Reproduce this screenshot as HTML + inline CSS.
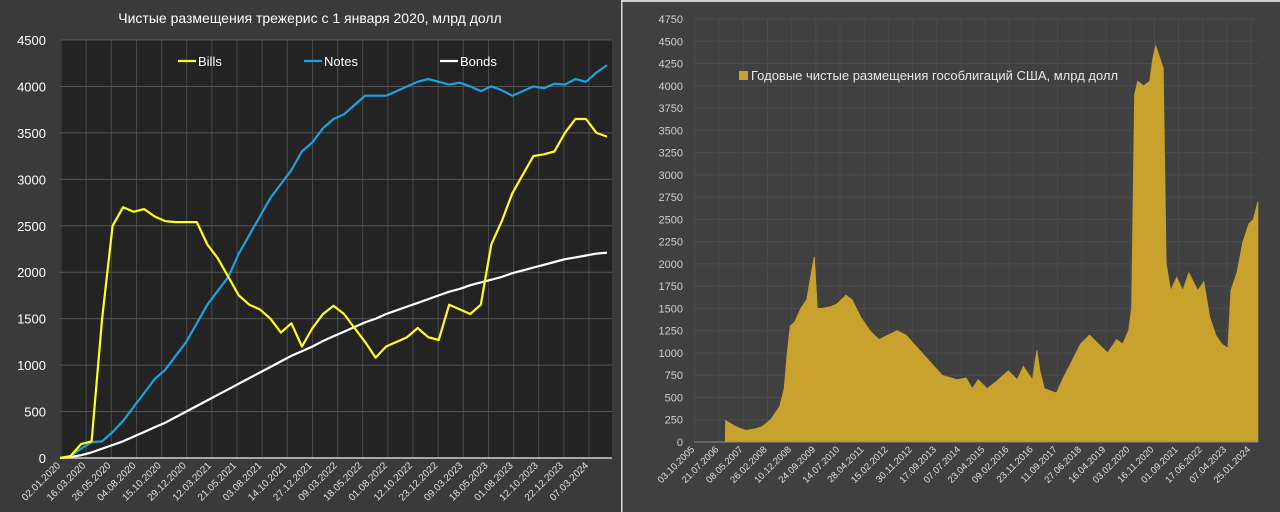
<!DOCTYPE html>
<html><head><meta charset="utf-8"><style>
html,body{margin:0;padding:0;background:#3b3b3b;width:1280px;height:512px;overflow:hidden}
svg{display:block;font-family:"Liberation Sans","Noto Sans CJK SC",sans-serif}
</style></head><body>
<svg id="s" width="1280" height="512" xmlns="http://www.w3.org/2000/svg">
<rect x="0" y="0" width="621" height="512" fill="#3a3a3a"/>
<rect x="621" y="0" width="1.5" height="512" fill="#d8d8d8"/>
<rect x="622.5" y="2" width="657.5" height="510" fill="#404040"/>
<rect x="622.5" y="0" width="657.5" height="2" fill="#cfcfcf"/>
<rect x="60" y="40" width="552" height="418" fill="#232323"/>
<text x="310" y="23" fill="#ffffff" font-size="14" text-anchor="middle">Чистые размещения трежерис с 1 января 2020, млрд долл</text>
<g id="lg"></g>
<g id="rg"></g>
</svg>
<script>
const NS='http://www.w3.org/2000/svg';
function mk(tag,attrs,parent,text){const e=document.createElementNS(NS,tag);for(const k in attrs)e.setAttribute(k,attrs[k]);if(text!==undefined)e.textContent=text;parent.appendChild(e);return e;}

// ---- Left chart data (monthly, Jan 2020 .. May 2024)
const leftYTicks=[0,500,1000,1500,2000,2500,3000,3500,4000,4500];
const leftXLabels=["02.01.2020","16.03.2020","26.05.2020","04.08.2020","15.10.2020","29.12.2020","12.03.2021","21.05.2021","03.08.2021","14.10.2021","27.12.2021","09.03.2022","18.05.2022","01.08.2022","12.10.2022","23.12.2022","09.03.2023","18.05.2023","01.08.2023","12.10.2023","22.12.2023","07.03.2024"];
const bills=[0,20,150,180,1500,2500,2700,2650,2680,2600,2550,2540,2540,2540,2300,2150,1950,1750,1650,1600,1500,1350,1450,1200,1400,1550,1640,1550,1400,1250,1080,1200,1250,1300,1400,1300,1270,1650,1600,1550,1650,2300,2550,2850,3050,3250,3270,3300,3500,3650,3650,3500,3460];
const notes=[0,20,100,170,180,280,400,550,700,850,950,1100,1250,1450,1650,1800,1950,2200,2400,2600,2800,2950,3100,3300,3400,3550,3650,3700,3800,3900,3900,3900,3950,4000,4050,4080,4050,4020,4040,4000,3950,4000,3960,3900,3950,4000,3980,4030,4020,4080,4050,4150,4230];
const bonds=[0,10,30,60,100,140,180,230,280,330,380,440,500,560,620,680,740,800,860,920,980,1040,1100,1150,1200,1260,1310,1360,1410,1460,1500,1550,1590,1630,1670,1710,1750,1790,1820,1860,1890,1920,1950,1990,2020,2050,2080,2110,2140,2160,2180,2200,2210];

// ---- Right chart data
const rightYTicks=[0,250,500,750,1000,1250,1500,1750,2000,2250,2500,2750,3000,3250,3500,3750,4000,4250,4500,4750];
const rightXLabels=["03.10.2005","21.07.2006","08.05.2007","26.02.2008","10.12.2008","24.09.2009","14.07.2010","28.04.2011","15.02.2012","30.11.2012","17.09.2013","07.07.2014","23.04.2015","09.02.2016","23.11.2016","11.09.2017","27.06.2018","16.04.2019","03.02.2020","16.11.2020","01.09.2021","17.06.2022","07.04.2023","25.01.2024"];
const areaYears=[2005.75,2006.79,2006.8,2007.1,2007.3,2007.5,2007.8,2008.0,2008.3,2008.6,2008.75,2008.85,2008.95,2009.1,2009.3,2009.5,2009.65,2009.75,2009.85,2010.0,2010.3,2010.5,2010.8,2011.0,2011.3,2011.6,2011.9,2012.2,2012.5,2012.8,2013.2,2013.6,2014.0,2014.5,2014.8,2015.0,2015.2,2015.5,2015.8,2016.2,2016.5,2016.7,2017.0,2017.15,2017.25,2017.4,2017.8,2018.0,2018.3,2018.6,2018.9,2019.2,2019.5,2019.8,2020.0,2020.2,2020.3,2020.4,2020.5,2020.7,2020.9,2021.0,2021.1,2021.25,2021.35,2021.45,2021.6,2021.8,2022.0,2022.2,2022.5,2022.7,2022.9,2023.1,2023.3,2023.5,2023.6,2023.8,2024.0,2024.2,2024.35,2024.5];
const areaValues=[0,0,240,180,150,130,150,170,250,400,600,1000,1300,1350,1500,1600,1900,2080,1500,1500,1520,1550,1650,1600,1400,1250,1150,1200,1250,1200,1050,900,750,700,720,600,700,600,680,800,700,850,700,1030,800,600,550,700,900,1100,1200,1100,1000,1150,1100,1250,1500,3900,4050,4000,4050,4300,4450,4300,4200,2000,1700,1850,1700,1900,1700,1800,1400,1200,1100,1050,1700,1900,2250,2450,2500,2700,2650];

const lg=document.getElementById('lg'),rg=document.getElementById('rg');
// Left scales
const LX0=60,LX1=607,LY0=458,LY1=40;
const ly=v=>LY0-(v/4500)*(LY0-LY1);
const lx=i=>LX0+i*(LX1-LX0)/(bills.length-1);
const lTickX=k=>61+k*(589-61)/(leftXLabels.length-1);
// vertical grid
for(let k=0;k<leftXLabels.length;k++){
  const g=mk('line',{x1:lTickX(k),x2:lTickX(k),y1:LY1,y2:LY0,stroke:'#4a4a4a','stroke-width':1},lg);
  
  
}
leftYTicks.forEach(v=>{
  const g=mk('line',{x1:LX0,x2:612,y1:ly(v),y2:ly(v),stroke:v===0?'#d0d0d0':'#555','stroke-width':v===0?1.5:1},lg);
  
  
  const t=mk('text',{x:46,y:ly(v)+5,fill:'#ffffff','font-size':13,'text-anchor':'end'},lg,String(v));
  
  
});
leftXLabels.forEach((s,k)=>{
  const x=lTickX(k);
  const t=mk('text',{x:x,y:466,fill:'#e0e0e0','font-size':10,'text-anchor':'end',transform:`rotate(-45 ${x} 466)`},lg,s);
  
  
});
function series(arr,color,name){
  const pts=arr.map((v,i)=>lx(i).toFixed(1)+','+ly(v).toFixed(1)).join(' ');
  const p=mk('polyline',{points:pts,fill:'none',stroke:color,'stroke-width':2.2,'stroke-linejoin':'round'},lg);
  
  
}
series(bonds,'#ffffff','bonds-line');
series(notes,'#1aa3e0','notes-line');
series(bills,'#ffff1a','bills-line');
[['Bills','#ffff1a',178],['Notes','#1aa3e0',304],['Bonds','#ffffff',440]].forEach(([n,c,x])=>{
  const l=mk('line',{x1:x,x2:x+18,y1:61,y2:61,stroke:c,'stroke-width':2.2},lg);
  
  
  const t=mk('text',{x:x+20,y:66,fill:'#ffffff','font-size':13},lg,n);
  
  
});

// Right scales
const RX0=694,RX1=1258,RY0=442,RY1=19;
const ry=v=>RY0-(v/4750)*(RY0-RY1);
const rx=yr=>RX0+(yr-2005.75)*(1245-694)/(2024.07-2005.75);
const rTickX=k=>695+k*(1251-695)/(rightXLabels.length-1);
for(let k=0;k<rightXLabels.length;k++){
  const g=mk('line',{x1:rTickX(k),x2:rTickX(k),y1:RY1,y2:RY0,stroke:'#4a4a4a','stroke-width':1},rg);
  
  
}
rightYTicks.forEach(v=>{
  const g=mk('line',{x1:RX0,x2:RX1,y1:ry(v),y2:ry(v),stroke:'#4c4c4c','stroke-width':1},rg);
  
  
  const t=mk('text',{x:683,y:ry(v)+4,fill:'#cfcfcf','font-size':11,'text-anchor':'end'},rg,String(v));
  
  
});
let d='M'+rx(areaYears[0]).toFixed(1)+','+RY0;
areaYears.forEach((yr,i)=>{d+=' L'+rx(yr).toFixed(1)+','+ry(areaValues[i]).toFixed(1);});
d+=' L'+rx(areaYears[areaYears.length-1]).toFixed(1)+','+RY0+' Z';
const area=mk('path',{d:d,fill:'#c9a22e',stroke:'#c9a22e','stroke-width':0.8},rg);


const ax=mk('line',{x1:RX0,x2:RX1,y1:RY0,y2:RY0,stroke:'#8a8a8a','stroke-width':1},rg);


rightXLabels.forEach((s,k)=>{
  const x=rTickX(k);
  const t=mk('text',{x:x,y:450,fill:'#e0e0e0','font-size':9.5,'text-anchor':'end',transform:`rotate(-45 ${x} 450)`},rg,s);
  
  
});
const sw=mk('rect',{x:739,y:71,width:9,height:9,fill:'#c9a22e'},rg);


const lt=mk('text',{x:751,y:80,fill:'#e8e8e8','font-size':13},rg,'Годовые чистые размещения гособлигаций США, млрд долл');


</script>
</body></html>
